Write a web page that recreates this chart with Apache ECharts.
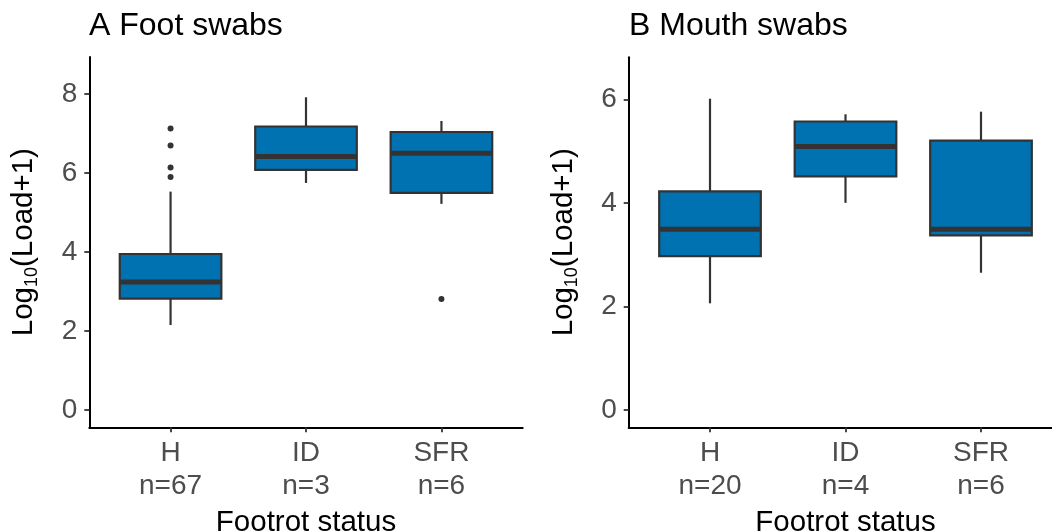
<!DOCTYPE html>
<html>
<head>
<meta charset="utf-8">
<script src="https://cdn.jsdelivr.net/npm/echarts@6/dist/echarts.min.js"></script>
<style>
  html, body { margin: 0; padding: 0; background: #ffffff; }
  #chart { width: 1052px; height: 532px; }
</style>
</head>
<body>
<div id="chart"></div>
<script>
// Footrot status groups
const categories = ['H', 'ID', 'SFR'];

// A: foot swabs, log10(load + 1)
const footN = [67, 3, 6];
const footLow = [2.15, 5.75, 5.22];
const footQ1 = [2.82, 6.08, 5.50];
const footMedian = [3.24, 6.42, 6.50];
const footQ3 = [3.95, 7.18, 7.04];
const footHigh = [5.53, 7.92, 7.32];
// outliers as [group index, value]
const footOutliers = [[0, 7.13], [0, 6.70], [0, 6.14], [0, 5.90], [2, 2.81]];

// B: mouth swabs, log10(load + 1)
const mouthN = [20, 4, 6];
const mouthLow = [2.06, 4.00, 2.65];
const mouthQ1 = [2.97, 4.51, 3.37];
const mouthMedian = [3.49, 5.09, 3.49];
const mouthQ3 = [4.22, 5.57, 5.20];
const mouthHigh = [6.01, 5.71, 5.76];
const mouthOutliers = [];

const footTicks = [0, 2, 4, 6, 8];
const mouthTicks = [0, 2, 4, 6];

const FONT = 'Liberation Sans, Arial, sans-serif';
const FILL = '#0072B2';
const INK = '#333333';

function boxRows(low, q1, med, q3, high) {
  return categories.map((c, i) => [i + 1, low[i], q1[i], med[i], q3[i], high[i]]);
}

function renderBox(params, api) {
  const x = api.value(0);
  const lo = api.coord([x, api.value(1)]);
  const q1 = api.coord([x, api.value(2)]);
  const md = api.coord([x, api.value(3)]);
  const q3 = api.coord([x, api.value(4)]);
  const hi = api.coord([x, api.value(5)]);
  const half = api.size([0.75, 0])[0] / 2;
  return {
    type: 'group',
    children: [
      { type: 'line', shape: { x1: lo[0], y1: lo[1], x2: hi[0], y2: hi[1] },
        style: { stroke: INK, lineWidth: 2.2 } },
      { type: 'rect', shape: { x: q3[0] - half, y: q3[1], width: half * 2, height: q1[1] - q3[1] },
        style: { fill: FILL, stroke: INK, lineWidth: 2.2 } },
      { type: 'line', shape: { x1: md[0] - half, y1: md[1], x2: md[0] + half, y2: md[1] },
        style: { stroke: INK, lineWidth: 5 } }
    ]
  };
}

function xAxisFor(gridIndex, counts) {
  return {
    type: 'value', gridIndex: gridIndex, min: 0.4, max: 3.6,
    splitLine: { show: false },
    axisLine: { show: true, onZero: false, lineStyle: { color: '#000', width: 2 } },
    axisTick: { show: true, customValues: [1, 2, 3], length: 5, lineStyle: { color: INK, width: 1.8 } },
    axisLabel: {
      customValues: [1, 2, 3], margin: 9, color: '#4D4D4D', fontSize: 28, fontFamily: FONT, lineHeight: 33,
      formatter: v => categories[Math.round(v) - 1] + '\nn=' + counts[Math.round(v) - 1]
    },
    name: 'Footrot status', nameLocation: 'middle', nameGap: 81,
    nameTextStyle: { color: '#000', fontSize: 29.5, fontFamily: FONT }
  };
}

function yAxisFor(gridIndex, min, max, ticks) {
  return {
    type: 'value', gridIndex: gridIndex, min: min, max: max,
    splitLine: { show: false },
    axisLine: { show: true, onZero: false, lineStyle: { color: '#000', width: 2 } },
    axisTick: { show: true, customValues: ticks, length: 5, lineStyle: { color: INK, width: 1.8 } },
    axisLabel: { customValues: ticks, margin: 12, color: '#4D4D4D', fontSize: 28, fontFamily: FONT },
    name: '{b|Log}{s|10}{b|(Load+1)}', nameLocation: 'middle', nameGap: 48, nameRotate: 90,
    nameTextStyle: {
      rich: {
        b: { fontSize: 29.5, color: '#000', fontFamily: FONT, lineHeight: 34 },
        s: { fontSize: 18, color: '#000', fontFamily: FONT, lineHeight: 19, verticalAlign: 'bottom' }
      }
    }
  };
}

const chart = echarts.init(document.getElementById('chart'), null, { renderer: 'canvas' });
chart.setOption({
  animation: false,
  backgroundColor: '#ffffff',
  title: [
    { text: 'A Foot swabs', left: 89, top: 10, padding: 0,
      textStyle: { color: '#000', fontSize: 32, fontWeight: 'normal', fontFamily: FONT, lineHeight: 32 } },
    { text: 'B Mouth swabs', left: 629, top: 10, padding: 0,
      textStyle: { color: '#000', fontSize: 32, fontWeight: 'normal', fontFamily: FONT, lineHeight: 32 } }
  ],
  grid: [
    { left: 89.3, top: 57, width: 433.4, height: 370.3, outerBoundsMode: 'none', containLabel: false },
    { left: 628.7, top: 57.3, width: 433.6, height: 370, outerBoundsMode: 'none', containLabel: false }
  ],
  xAxis: [xAxisFor(0, footN), xAxisFor(1, mouthN)],
  yAxis: [yAxisFor(0, -0.44, 8.94, footTicks), yAxisFor(1, -0.334, 6.81, mouthTicks)],
  series: [
    { type: 'custom', xAxisIndex: 0, yAxisIndex: 0, renderItem: renderBox,
      encode: { x: 0, y: [1, 2, 3, 4, 5] },
      data: boxRows(footLow, footQ1, footMedian, footQ3, footHigh) },
    { type: 'scatter', xAxisIndex: 0, yAxisIndex: 0, symbolSize: 6,
      itemStyle: { color: INK, opacity: 1 },
      data: footOutliers.map(p => [p[0] + 1, p[1]]) },
    { type: 'custom', xAxisIndex: 1, yAxisIndex: 1, renderItem: renderBox,
      encode: { x: 0, y: [1, 2, 3, 4, 5] },
      data: boxRows(mouthLow, mouthQ1, mouthMedian, mouthQ3, mouthHigh) },
    { type: 'scatter', xAxisIndex: 1, yAxisIndex: 1, symbolSize: 6,
      itemStyle: { color: INK, opacity: 1 },
      data: mouthOutliers.map(p => [p[0] + 1, p[1]]) }
  ]
});
</script>
</body>
</html>
